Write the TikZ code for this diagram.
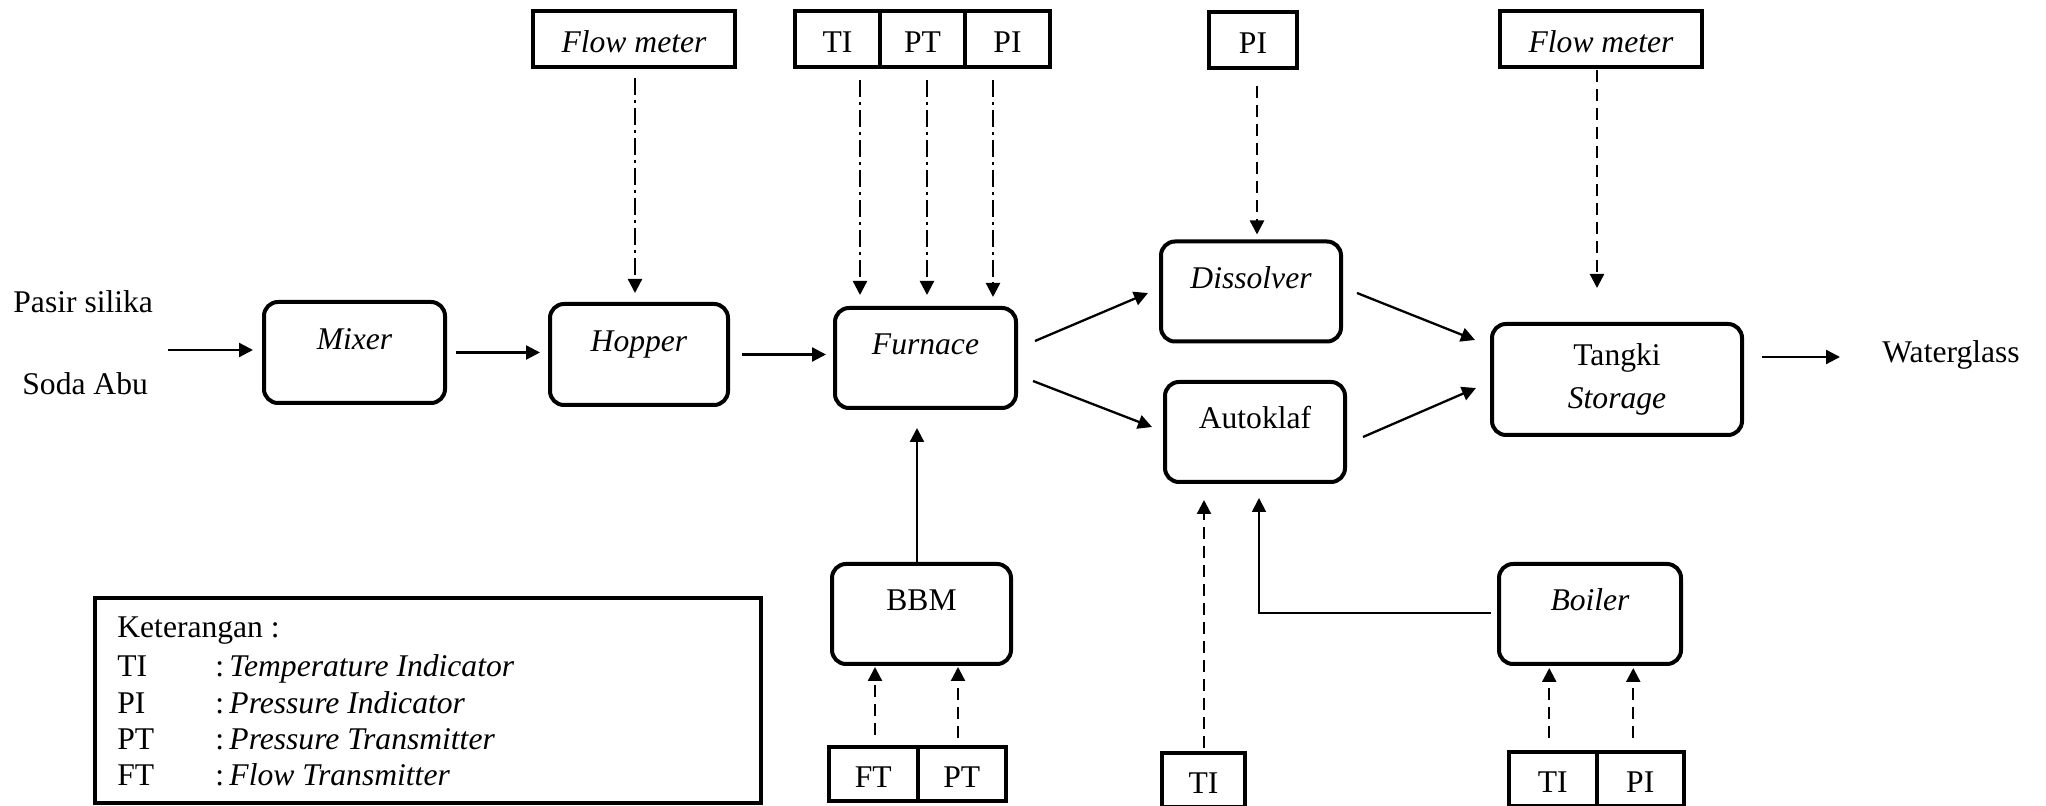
\documentclass[tikz,border=0pt]{standalone}
\usepackage{fontspec}
\setmainfont{Liberation Serif}
\usetikzlibrary{arrows.meta,calc}
\begin{document}
\begin{tikzpicture}[x=0.5pt,y=-0.5pt,
  font=\fontsize{15.8pt}{18.25pt}\selectfont,
  unit box/.style={draw, line width=2pt, rounded corners=7pt, minimum width=90pt,
    minimum height=50pt, text height=10pt, text depth=13.2pt, inner sep=0pt},
  cell/.style={draw, line width=2pt, minimum height=28pt, text height=13.5pt,
    text depth=0pt, inner sep=0pt},
  flow/.style={line width=1.15pt, -{Triangle[length=7pt,width=7pt]}},
  sig/.style={flow, dash pattern=on 6pt off 3.5pt},
  sigdot/.style={flow, dash pattern=on 8.5pt off 2.5pt on 1.5pt off 2.5pt},
  lbl/.style={anchor=base west, inner sep=0pt}
]
\useasboundingbox (0,0) rectangle (2046,806);
\fill[white] (0,0) rectangle (2046,806);

% process units
\node[unit box, minimum width=90.5pt, minimum height=50.5pt] (mixer) at (354.5,352.5) {\itshape Mixer};
\node[unit box, minimum width=89pt, minimum height=50.5pt] (hopper) at (639,354.5) {\itshape Hopper};
\node[unit box, minimum width=90.5pt] (furnace) at (925.5,358) {\itshape Furnace};
\node[unit box] (dissolver) at (1251,291.5) {\itshape Dissolver};
\node[unit box] (autoklaf) at (1255,432) {Autoklaf};
\node[unit box, minimum width=89.5pt] (bbm) at (921.5,614) {BBM};
\node[unit box, minimum width=91pt] (boiler) at (1590,614) {\itshape Boiler};
\node[draw, line width=2pt, rounded corners=7pt, minimum width=125pt, minimum height=55.5pt,
  align=center, inner sep=0pt, font=\fontsize{15.8pt}{21.3pt}\selectfont] (tank) at (1617,379.5)
  {Tangki\\\itshape Storage};

% instruments, top row
\node[cell, minimum width=101pt] (fm1) at (634,39) {\itshape Flow meter};
\node[cell, minimum width=42.5pt] (ti1) at (837.5,39) {TI};
\node[cell, minimum width=42.5pt] (pt1) at (922.5,39) {PT};
\node[cell, minimum width=42.5pt] (pi1) at (1007.5,39) {PI};
\node[cell, minimum width=44pt] (pi2) at (1253,40) {PI};
\node[cell, minimum width=101pt] (fm2) at (1601,39) {\itshape Flow meter};

% instruments, bottom row
\node[cell, minimum width=44.25pt, minimum height=27pt] (ft) at (873.25,774) {FT};
\node[cell, minimum width=44.25pt, minimum height=27pt] (pt2) at (961.75,774) {PT};
\node[cell, minimum width=41.5pt, minimum height=27pt] (ti2) at (1203.5,780) {TI};
\node[cell, minimum width=43.75pt, minimum height=27pt] (ti3) at (1552.75,779) {TI};
\node[cell, minimum width=43.75pt, minimum height=27pt] (pi3) at (1640.25,779) {PI};

% feed and product
\node[lbl] (pasir) at (13,313) {Pasir silika};
\node[lbl] (soda) at (22,395) {Soda Abu};
\node[lbl] (wg) at (1882,363) {Waterglass};
\coordinate (feed) at (168,350);
\coordinate (product) at (1840,357);

% legend
\node[draw, line width=2pt, minimum width=333pt, minimum height=102.5pt, inner sep=0pt] (legend) at (428,700.5) {};
\node[lbl] (k0) at (117,638) {Keterangan :};
\node[lbl] (k1) at (117,676) {\makebox[49pt][l]{TI}:\,\itshape Temperature Indicator};
\node[lbl] (k2) at (117,713) {\makebox[49pt][l]{PI}:\,\itshape Pressure Indicator};
\node[lbl] (k3) at (117,749) {\makebox[49pt][l]{PT}:\,\itshape Pressure Transmitter};
\node[lbl] (k4) at (117,785) {\makebox[49pt][l]{FT}:\,\itshape Flow Transmitter};

% material flow
\draw[flow, shorten >=4.5pt] (feed) -- (feed -| mixer.west);
\draw[flow, shorten <=4.5pt, shorten >=4pt] (mixer.east) -- (mixer.east -| hopper.west);
\draw[flow, shorten <=6pt, shorten >=3.5pt] (hopper.east) -- (hopper.east -| furnace.west);
\draw[flow] ($(furnace.east)+(17,-17)$) -- ($(dissolver.west)+(-11,1.5)$);
\draw[flow] ($(furnace.east)+(15,23)$) -- ($(autoklaf.west)+(-11,-5)$);
\draw[flow] ($(dissolver.east)+(14,1.5)$) -- ($(tank.west)+(-15,-39.5)$);
\draw[flow] ($(autoklaf.east)+(16,5)$) -- ($(tank.west)+(-14,8.5)$);
\draw[flow] ($(tank.east)+(18,-22.5)$) -- (product);
\draw[flow] ($(bbm.north)+(-4.5,0)$) -- ($(furnace.south)+(-8.5,18)$);
\draw[flow, line width=0.9pt] ($(boiler.west)+(-6,-1)$) -| ($(autoklaf.south)+(4,14)$);

% instrument signals
\draw[sigdot] ($(fm1.south)+(1,9)$) -- ($(fm1.south |- hopper.north)+(1,-9)$);
\draw[sigdot] ($(ti1.south)+(22.5,11)$) -- ($(ti1.south |- furnace.north)+(22.5,-11)$);
\draw[sigdot] ($(pt1.south)+(4.5,11)$) -- ($(pt1.south |- furnace.north)+(4.5,-11)$);
\draw[sigdot] ($(pi1.south)+(-14.5,11)$) -- ($(pi1.south |- furnace.north)+(-14.5,-9)$);
\draw[sig] ($(pi2.south)+(4,16)$) -- ($(pi2.south |- dissolver.north)+(4,-5)$);
\draw[sig] ($(fm2.south)+(-4,1)$) -- ($(fm2.south |- tank.north)+(-4,-34)$);
\draw[sig] ($(ft.north)+(1.75,-10)$) -- ($(ft.north |- bbm.south)+(1.75,1)$);
\draw[sig] ($(pt2.north)+(-3.75,-7)$) -- ($(pt2.north |- bbm.south)+(-3.75,1)$);
\draw[sig] ($(ti2.north)+(0.5,-3)$) -- ($(ti2.north |- autoklaf.south)+(0.5,16)$);
\draw[sig] ($(ti3.north)+(-3.5,-12)$) -- ($(ti3.north |- boiler.south)+(-3.5,2)$);
\draw[sig] ($(pi3.north)+(-7,-12)$) -- ($(pi3.north |- boiler.south)+(-7,2)$);
\end{tikzpicture}
\end{document}
